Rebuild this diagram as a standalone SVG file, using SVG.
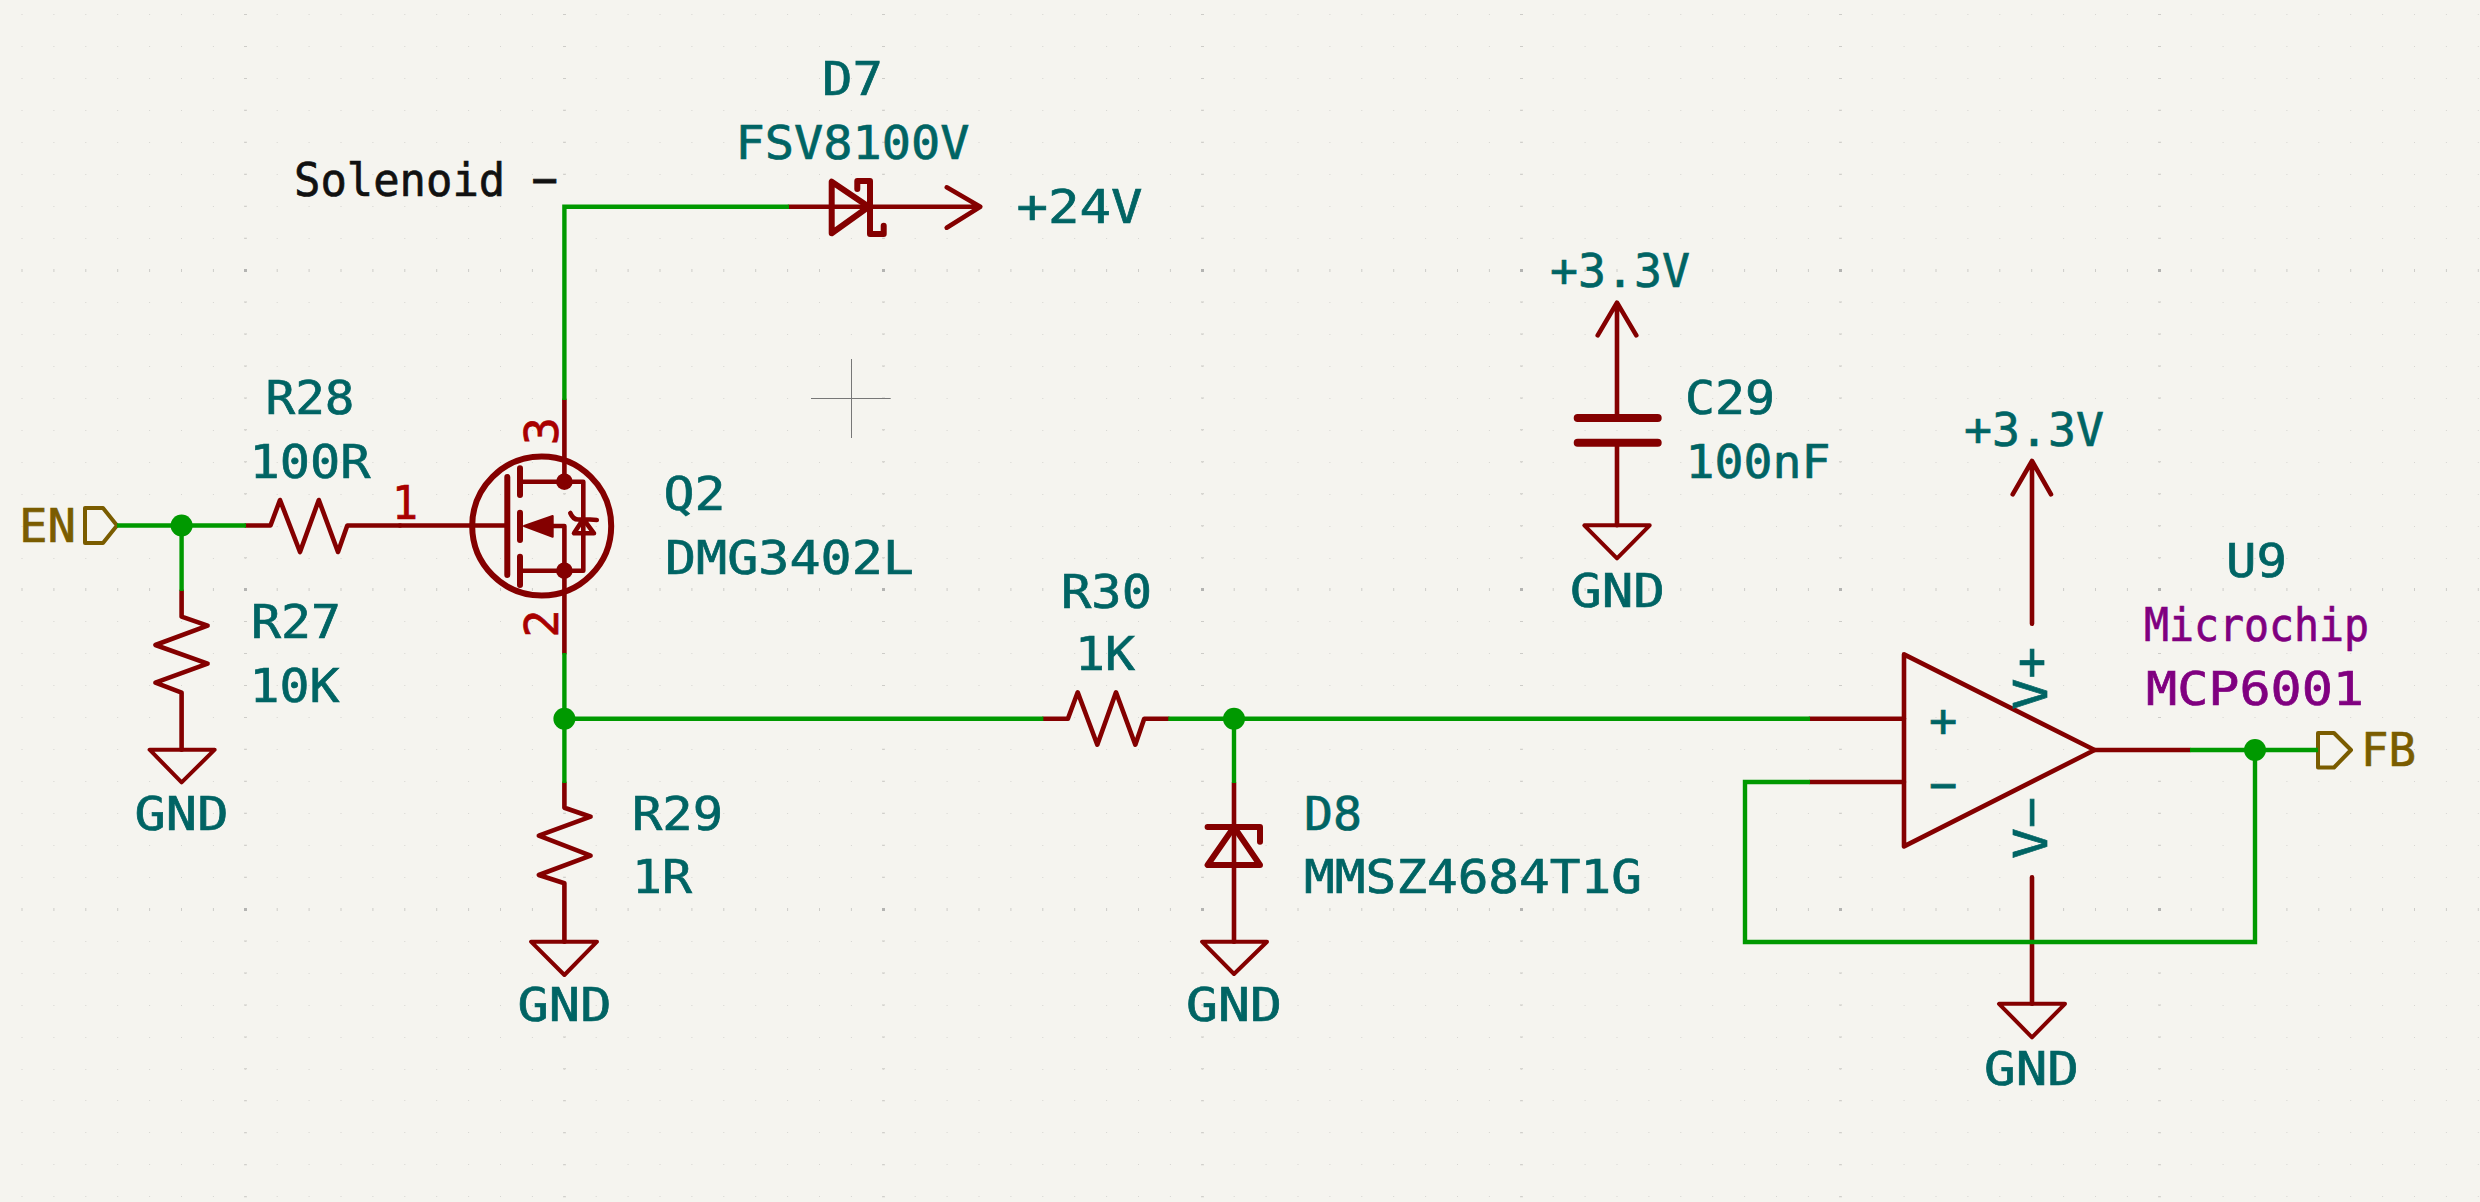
<svg xmlns="http://www.w3.org/2000/svg" width="2480" height="1202" viewBox="0 0 2480 1202">
<style>
.p{fill:none;stroke:#840000;stroke-width:4.6;stroke-linecap:round;stroke-linejoin:round}
.b{fill:none;stroke:#840000;stroke-width:6;stroke-linecap:round;stroke-linejoin:round}
.g{fill:none;stroke:#840000;stroke-width:4;stroke-linejoin:round;stroke-linecap:round}
.w{fill:none;stroke:#009900;stroke-width:4.4;stroke-linejoin:miter}
.j{fill:#009900}
.l{fill:none;stroke:#7a5c00;stroke-width:4;stroke-linejoin:round}
text{font-family:"DejaVu Sans Mono","Liberation Mono",monospace;font-size:47px;fill:#006464;stroke:#006464;stroke-width:.7}
.n{fill:#a90000;stroke:#a90000}
.lb{fill:#7a5c00;stroke:#7a5c00}
.k{fill:#111111;stroke:#111111}
.m{fill:#800080;stroke:#800080}
</style>
<rect width="2480" height="1202" fill="#f5f4ef"/>
<g id="grid" fill="none">
<path stroke="#d6d5d1" stroke-width="1" stroke-dasharray="1 30.9" d="M21.5 14.5H2480M21.5 46.5H2480M21.5 78.5H2480M21.5 110.5H2480M21.5 142.5H2480M21.5 174.5H2480M21.5 206.5H2480M21.5 238.5H2480M21.5 302.5H2480M21.5 334.5H2480M21.5 366.5H2480M21.5 398.5H2480M21.5 430.5H2480M21.5 462.5H2480M21.5 494.5H2480M21.5 526.5H2480M21.5 558.5H2480M21.5 621.5H2480M21.5 653.5H2480M21.5 685.5H2480M21.5 717.5H2480M21.5 749.5H2480M21.5 781.5H2480M21.5 813.5H2480M21.5 845.5H2480M21.5 877.5H2480M21.5 941.5H2480M21.5 973.5H2480M21.5 1005.5H2480M21.5 1037.5H2480M21.5 1069.5H2480M21.5 1100.5H2480M21.5 1132.5H2480M21.5 1164.5H2480M21.5 1196.5H2480"/>
<path stroke="#cdccc8" stroke-width="3" stroke-dasharray="1 30.9" d="M21.5 270.5H2480M21.5 589.5H2480M21.5 909.5H2480"/>
<path stroke="#cdccc8" stroke-width="3" stroke-dasharray="1 30.95" d="M245.5 14V1202M564.5 14V1202M883.5 14V1202M1202.5 14V1202M1521.5 14V1202M1840.5 14V1202M2159.5 14V1202"/>
<path fill="#b4b4b2" d="M244 269h3v3h-3zM563 269h3v3h-3zM882 269h3v3h-3zM1201 269h3v3h-3zM1520 269h3v3h-3zM1839 269h3v3h-3zM2158 269h3v3h-3zM244 588h3v3h-3zM563 588h3v3h-3zM882 588h3v3h-3zM1201 588h3v3h-3zM1520 588h3v3h-3zM1839 588h3v3h-3zM2158 588h3v3h-3zM244 908h3v3h-3zM563 908h3v3h-3zM882 908h3v3h-3zM1201 908h3v3h-3zM1520 908h3v3h-3zM1839 908h3v3h-3zM2158 908h3v3h-3z"/>
</g>
<g id="cursor"><path d="M811 398.5H890.7M851.5 359V438" fill="none" stroke="#777" stroke-width="1"/></g>

<g id="EN">
<path class="l" d="M85 508H103L117 525.5L103 543H85Z"/>
<text class="lb" x="19" y="542.3" textLength="57" lengthAdjust="spacingAndGlyphs">EN</text>
</g>
<g id="R28">
<path class="p" d="M246 525.5H270.5L280 500L300 552L318.8 500L338 552L347.3 525.5H400"/>
<text x="265.5" y="414" textLength="89" lengthAdjust="spacingAndGlyphs">R28</text>
<text x="249.5" y="478.3" textLength="121" lengthAdjust="spacingAndGlyphs">100R</text>
</g>
<g id="R27">
<path class="p" d="M181.6 591V616.7L207.6 625.7L155.4 645L207.6 663.7L155.4 682.7L181.6 692.7V749.7"/>
<text x="251" y="638.3" textLength="90" lengthAdjust="spacingAndGlyphs">R27</text>
<text x="249.5" y="701.7" textLength="90" lengthAdjust="spacingAndGlyphs">10K</text>
</g>
<g id="GND1">
<path class="g" d="M149.6 749.7H214.7L181.6 782.3Z"/>
<text x="134.5" y="830" textLength="94" lengthAdjust="spacingAndGlyphs">GND</text>
</g>
<g id="Q2">
<circle class="b" cx="541.7" cy="526" r="69.5"/>
<path class="p" d="M400 525.5H507.3"/>
<path class="b" d="M507.3 477V575M520 468.3V495M520 512.7V540M520 556.7V585"/>
<path class="p" d="M520 481.7H583.3V570.7H520M552.7 526H564.4V570.7M564.4 400V481.7M564.4 570.7V653"/>
<path fill="#840000" stroke="#840000" stroke-width="2" stroke-linejoin="round" d="M524 526L552.7 516V536.7Z"/>
<circle cx="564.4" cy="481.7" r="8.3" fill="#840000"/>
<circle cx="564.4" cy="570.7" r="8.3" fill="#840000"/>
<path class="p" d="M583.3 519L574 533.3H594ZM570.3 513Q573 519.5 578 519.5H590L596.8 520"/>
<text class="n" x="392" y="519" textLength="26" lengthAdjust="spacingAndGlyphs">1</text>
<text class="n" transform="rotate(-90 558 431)" x="558" y="431" text-anchor="middle">3</text>
<text class="n" transform="rotate(-90 558 623.7)" x="558" y="623.7" text-anchor="middle">2</text>
<text x="663.5" y="510" textLength="62" lengthAdjust="spacingAndGlyphs">Q2</text>
<text x="665" y="574" textLength="249" lengthAdjust="spacingAndGlyphs">DMG3402L</text>
</g>
<g id="Solenoid"><text class="k" x="294" y="196" textLength="264" lengthAdjust="spacingAndGlyphs">Solenoid −</text></g>
<g id="D7">
<path class="p" d="M789 206.7H980.3M946.7 187.3L980.3 206.7L946.7 227.7"/>
<path class="b" d="M831.7 181.7V233.3L868.7 206.7ZM857.3 189V181H870V234H883.7V225.7"/>
<text x="822" y="95" textLength="61" lengthAdjust="spacingAndGlyphs">D7</text>
<text x="735.5" y="159" textLength="234" lengthAdjust="spacingAndGlyphs">FSV8100V</text>
<text x="1016.5" y="223.3" textLength="126" lengthAdjust="spacingAndGlyphs">+24V</text>
</g>
<g id="R29">
<path class="p" d="M564.4 783V807.7L590.6 816.7L538.8 835.7L590.6 855.7L538.8 875L564.4 883.3V941.7"/>
<text x="632" y="830" textLength="91" lengthAdjust="spacingAndGlyphs">R29</text>
<text x="632" y="893.3" textLength="60" lengthAdjust="spacingAndGlyphs">1R</text>
</g>
<g id="GND2">
<path class="g" d="M531 941.7H597L564.4 975Z"/>
<text x="517.5" y="1020.7" textLength="94" lengthAdjust="spacingAndGlyphs">GND</text>
</g>
<g id="R30">
<path class="p" d="M1043.3 718.7H1067.9L1077.7 692.3L1097.3 744.7L1116 692.3L1135.3 744.7L1144.2 718.7H1168.3"/>
<text x="1061" y="608" textLength="91" lengthAdjust="spacingAndGlyphs">R30</text>
<text x="1075" y="670" textLength="60" lengthAdjust="spacingAndGlyphs">1K</text>
</g>
<g id="D8">
<path class="p" d="M1234 783V941.7"/>
<path class="b" d="M1207.6 827H1260V841.7M1234 827L1207.6 865H1260Z"/>
<text x="1304" y="830" textLength="58" lengthAdjust="spacingAndGlyphs">D8</text>
<text x="1304" y="893.3" textLength="338" lengthAdjust="spacingAndGlyphs">MMSZ4684T1G</text>
</g>
<g id="GND3">
<path class="g" d="M1202 941.7H1267L1234 974Z"/>
<text x="1186" y="1021" textLength="96" lengthAdjust="spacingAndGlyphs">GND</text>
</g>
<g id="C29">
<path class="p" d="M1617 302.7V415M1597.7 335.3L1617 302.7L1636.3 335.3M1617 442.7V525.3"/>
<path d="M1577.7 418H1657.7M1577.7 442.7H1657.7" fill="none" stroke="#840000" stroke-width="8" stroke-linecap="round"/>
<text x="1550" y="286.7" textLength="140" lengthAdjust="spacingAndGlyphs">+3.3V</text>
<text x="1685" y="414.3" textLength="90" lengthAdjust="spacingAndGlyphs">C29</text>
<text x="1685.5" y="477.7" textLength="145" lengthAdjust="spacingAndGlyphs">100nF</text>
</g>
<g id="GND4">
<path class="g" d="M1584.3 525.3H1649.7L1617 558.3Z"/>
<text x="1570" y="606.7" textLength="95" lengthAdjust="spacingAndGlyphs">GND</text>
</g>
<g id="U9">
<path class="p" d="M1904 654.4L2094.6 750L1904 846.4Z"/>
<path class="p" d="M1810 718.7H1904M1810 782H1904M2094.6 750H2190M2032 461V623.8M2012.7 494.3L2032 461L2051 494.3M2032 877.3V1003.8"/>
<text x="1929" y="737">+</text>
<text x="1929" y="801">−</text>
<text transform="rotate(-90 2047 710)" x="2047" y="710" textLength="63" lengthAdjust="spacingAndGlyphs">V+</text>
<text transform="rotate(-90 2047 859)" x="2047" y="859" textLength="62" lengthAdjust="spacingAndGlyphs">V−</text>
<text x="1964" y="446" textLength="140" lengthAdjust="spacingAndGlyphs">+3.3V</text>
<text x="2226" y="577.3" textLength="61" lengthAdjust="spacingAndGlyphs">U9</text>
<text class="m" x="2144" y="641" textLength="225" lengthAdjust="spacingAndGlyphs">Microchip</text>
<text class="m" x="2146" y="705.3" textLength="218" lengthAdjust="spacingAndGlyphs">MCP6001</text>
</g>
<g id="GND5">
<path class="g" d="M1999 1003.8H2065L2032 1037.3Z"/>
<text x="1984" y="1084.5" textLength="95" lengthAdjust="spacingAndGlyphs">GND</text>
</g>
<g id="FB">
<path class="l" d="M2318 733H2334L2351 750L2334 767.5H2318Z"/>
<text class="lb" x="2361" y="766.4" textLength="55" lengthAdjust="spacingAndGlyphs">FB</text>
</g>
<g id="connectors">
<path class="w" d="M117 525.5H246M181.6 525.5V591"/>
<path class="w" d="M564.4 400V206.7H789"/>
<path class="w" d="M564.4 653V783M564.4 718.7H1043.3"/>
<path class="w" d="M1168.3 718.7H1810M1234 718.7V783"/>
<path class="w" d="M1810 782H1745V942H2255V750M2190 750H2318"/>
<circle class="j" cx="181.6" cy="525.5" r="11"/>
<circle class="j" cx="564.4" cy="718.7" r="11"/>
<circle class="j" cx="1234" cy="718.7" r="11"/>
<circle class="j" cx="2255" cy="750" r="11"/>
</g>
</svg>
